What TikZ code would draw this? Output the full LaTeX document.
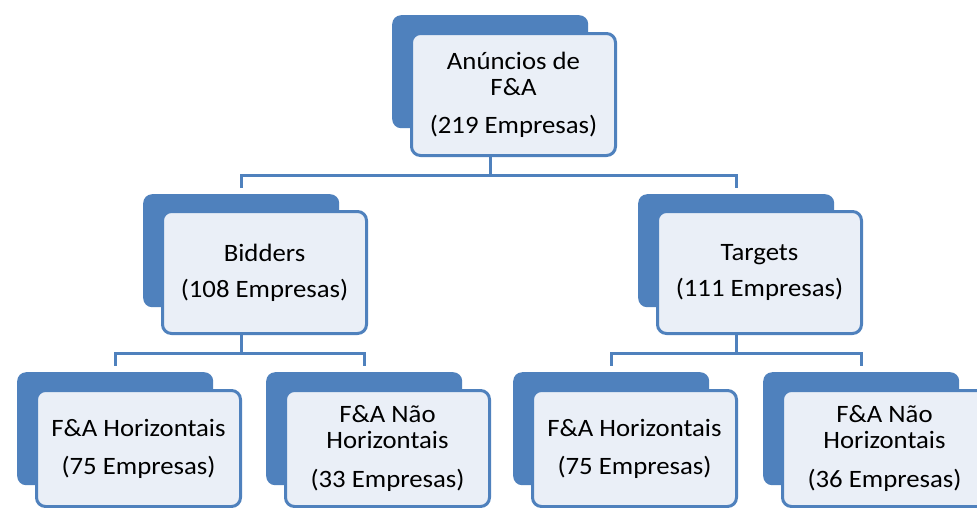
\documentclass[tikz,border=0pt]{standalone}
\usepackage{fontspec}
\setmainfont{Carlito}[FakeStretch=1.07]
\usepackage{xcolor}
\usepackage{tikz}
\usetikzlibrary{positioning,backgrounds}
\definecolor{smblue}{RGB}{79,129,189}
\definecolor{smfill}{RGB}{234,239,247}

\begin{document}
\begin{tikzpicture}[
        x=1pt, y=1pt,
        backbox/.style={rectangle, rounded corners=9pt, fill=smblue, minimum width=196pt, minimum height=113pt, inner sep=0pt, preaction={draw=white, line width=12pt}},
        frontbox/.style={rectangle, rounded corners=9pt, draw=smblue, line width=3pt, fill=smfill, minimum width=204pt, minimum height=122pt, align=center, inner sep=2pt, font=\fontsize{25}{26}\selectfont},
        link/.style={draw=smblue, line width=3pt}
    ]
        \clip (0,0) rectangle (977,-507);

        % Top
        \node[backbox, anchor=north west] (topB) at (392,-15) {};
        \node[frontbox, below right=17pt and 18pt of topB.north west] (topF) {Anúncios de\\F\&A\\[12pt](219 Empresas)};

        % Second level
        \node[backbox, anchor=north west] (bidB) at (143,-194) {};
        \node[frontbox, below right=16pt and 18pt of bidB.north west] (bidF) {Bidders\\[10pt](108 Empresas)};
        \node[backbox, anchor=north west] (tarB) at (638,-194) {};
        \node[frontbox, below right=16pt and 18pt of tarB.north west] (tarF) {Targets\\[10pt](111 Empresas)};

        % Third level
        \node[backbox, anchor=north west] (bhB) at (17,-372) {};
        \node[frontbox, minimum height=116pt, below right=17pt and 18pt of bhB.north west] (bhF) {F\&A Horizontais\\[12pt](75 Empresas)};
        \node[backbox, anchor=north west] (bnB) at (266,-372) {};
        \node[frontbox, minimum height=116pt, below right=17pt and 18pt of bnB.north west] (bnF) {F\&A Não\\Horizontais\\[13pt](33 Empresas)};
        \node[backbox, anchor=north west] (thB) at (513,-372) {};
        \node[frontbox, minimum height=116pt, below right=17pt and 18pt of thB.north west] (thF) {F\&A Horizontais\\[12pt](75 Empresas)};
        \node[backbox, anchor=north west] (tnB) at (763,-372) {};
        \node[frontbox, minimum height=116pt, below right=17pt and 18pt of tnB.north west] (tnF) {F\&A Não\\Horizontais\\[13pt](36 Empresas)};

        % Links
        \begin{scope}[on background layer]
            \draw[link] (topF.south -| topB) -- ++(0,-18) -| (bidB.north);
            \draw[link] (topF.south -| topB) -- ++(0,-18) -| (tarB.north);
            \draw[link] (bidF.south -| bidB) -- ++(0,-18) -| (bhB.north);
            \draw[link] (bidF.south -| bidB) -- ++(0,-18) -| (bnB.north);
            \draw[link] (tarF.south -| tarB) -- ++(0,-18) -| (thB.north);
            \draw[link] (tarF.south -| tarB) -- ++(0,-18) -| (tnB.north);
        \end{scope}
    \end{tikzpicture}
\end{document}
